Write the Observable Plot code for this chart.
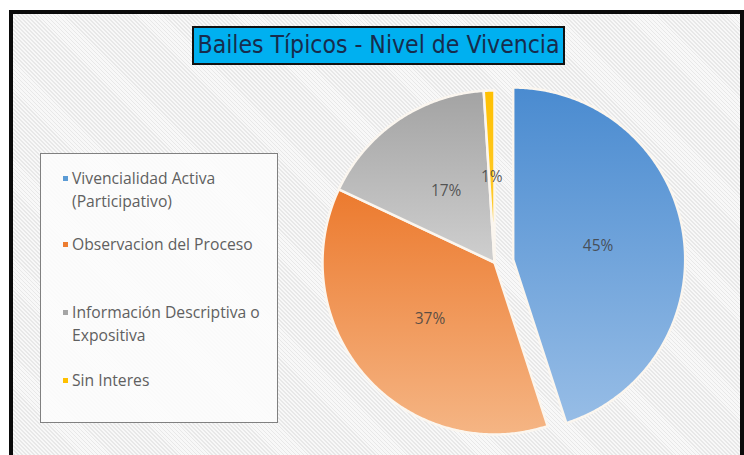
<!DOCTYPE html>
<html>
<head>
<meta charset="utf-8">
<script src="https://cdn.jsdelivr.net/npm/d3@7"></script>
<script src="https://cdn.jsdelivr.net/npm/@observablehq/plot@0.6"></script>
<style>
  body { margin: 0; background: #fff; }
  #wrap { position: relative; width: 744px; height: 455px; overflow: hidden; background: #fff; }
  #frame {
    position: absolute; left: 9px; top: 10px; width: 727px; height: 470px;
    border: 4px solid #0a0a0a;
    background: repeating-linear-gradient(45deg, #f8f8f8 0px, #f8f8f8 1.6px, #e8e8e8 1.6px, #e8e8e8 2.8px);
  }
  #title {
    position: absolute; left: 192px; top: 26px; width: 369px; height: 35px;
    border: 2px solid #111; background: #00b0f0; overflow: hidden;
  }
  #titleText {
    position: absolute; left: 0; top: 0; white-space: nowrap; transform-origin: 0 0;
    font-family: "DejaVu Sans Condensed", "Liberation Sans Narrow", sans-serif; font-size: 24px;
    color: #172c4d; line-height: 35px;
  }
  #legend {
    position: absolute; left: 40px; top: 153px; width: 236px; height: 268px;
    border: 1.5px solid #808080; background: rgba(252,252,252,0.9);
  }
  .item { position: absolute; left: 31px; font-family: "Open Sans", sans-serif; font-size: 15.7px; color: #606060; line-height: 23px; white-space: nowrap; }
  .sw { position: absolute; left: -9px; top: 9px; width: 5px; height: 5px; }
  #chart { position: absolute; left: 0; top: 0; }
</style>
</head>
<body>
<div id="wrap">
  <div id="frame"></div>
  <div id="legend"></div>
  <div id="title"><span id="titleText"></span></div>
  <div id="chart"></div>
</div>
<script>
// ---- data ----
const titleText = "Bailes Típicos - Nivel de Vivencia";
const categories = ["Vivencialidad Activa (Participativo)", "Observacion del Proceso", "Información Descriptiva o Expositiva", "Sin Interes"];
const legendLines = [["Vivencialidad Activa", "(Participativo)"], ["Observacion del Proceso"], ["Información Descriptiva o", "Expositiva"], ["Sin Interes"]];
const values = [45, 37, 17, 1];
const labels = ["45%", "37%", "17%", "1%"];
const colors = ["#5b9bd5", "#ed7d31", "#a5a5a5", "#ffc000"];
const gradTop = ["#4a8bd0", "#ec7a2e", "#a3a3a3", "#ffc000"];
const gradBottom = ["#97bde6", "#f5b584", "#cfcfcf", "#ffd040"];
const explode = [0.11, 0, 0, 0];

// ---- layout ----
const W = 744, H = 455;
const cx = 494, cy = 262, r = 172;

// title, fitted to the box width
const tt = document.getElementById("titleText");
tt.textContent = titleText;
const tw = tt.getBoundingClientRect().width;
const target = 362;
tt.style.transform = `translateX(${(369 - target) / 2}px) scaleX(${target / tw})`;

// legend
const legendTops = [13, 79, 147, 215];
const leg = d3.select("#legend");
legendLines.forEach((lines, i) => {
  const it = leg.append("div").attr("class", "item").style("top", legendTops[i] + "px");
  it.append("div").attr("class", "sw").style("background", colors[i]);
  it.html(it.html() + lines.join("<br>"));
});

// pie geometry
const arcs = d3.pie().sort(null).value(d => d)(values);
const slices = [];
const labelPts = [];
arcs.forEach((a, i) => {
  const mid = (a.startAngle + a.endAngle) / 2;
  const ox = explode[i] * Math.sin(mid), oy = explode[i] * Math.cos(mid);
  const pts = [{x: ox, y: oy}];
  const n = Math.max(4, Math.ceil((a.endAngle - a.startAngle) / 0.01));
  for (let k = 0; k <= n; k++) {
    const t = a.startAngle + (a.endAngle - a.startAngle) * k / n;
    pts.push({x: ox + Math.sin(t), y: oy + Math.cos(t)});
  }
  slices.push(pts);
  labelPts.push({x: ox + 0.5 * Math.sin(mid), y: oy + 0.5 * Math.cos(mid), text: labels[i]});
});

const marks = slices.map((pts, i) => Plot.line(pts, {
  x: "x", y: "y", curve: "linear-closed",
  fill: `url(#grad${i})`, stroke: "#fbf6ef", strokeWidth: 2.5, strokeLinejoin: "round"
}));
marks.push(Plot.text(labelPts, {
  x: "x", y: "y", text: "text", fontSize: 15.5, fill: "#404040", fillOpacity: 0.85,
  fontFamily: "Open Sans, sans-serif"
}));

const svg = Plot.plot({
  width: W, height: H,
  margin: 0,
  x: {domain: [-1, 1], range: [cx - r, cx + r], axis: null},
  y: {domain: [-1, 1], range: [cy + r, cy - r], axis: null},
  style: {background: "transparent", overflow: "visible"},
  marks
});

const defs = d3.select(svg).insert("defs", ":first-child");
colors.forEach((c, i) => {
  const g = defs.append("linearGradient").attr("id", `grad${i}`)
    .attr("x1", 0).attr("y1", 0).attr("x2", 0).attr("y2", 1);
  g.append("stop").attr("offset", "0%").attr("stop-color", gradTop[i]);
  g.append("stop").attr("offset", "100%").attr("stop-color", gradBottom[i]);
});

document.getElementById("chart").appendChild(svg);
</script>
</body>
</html>
